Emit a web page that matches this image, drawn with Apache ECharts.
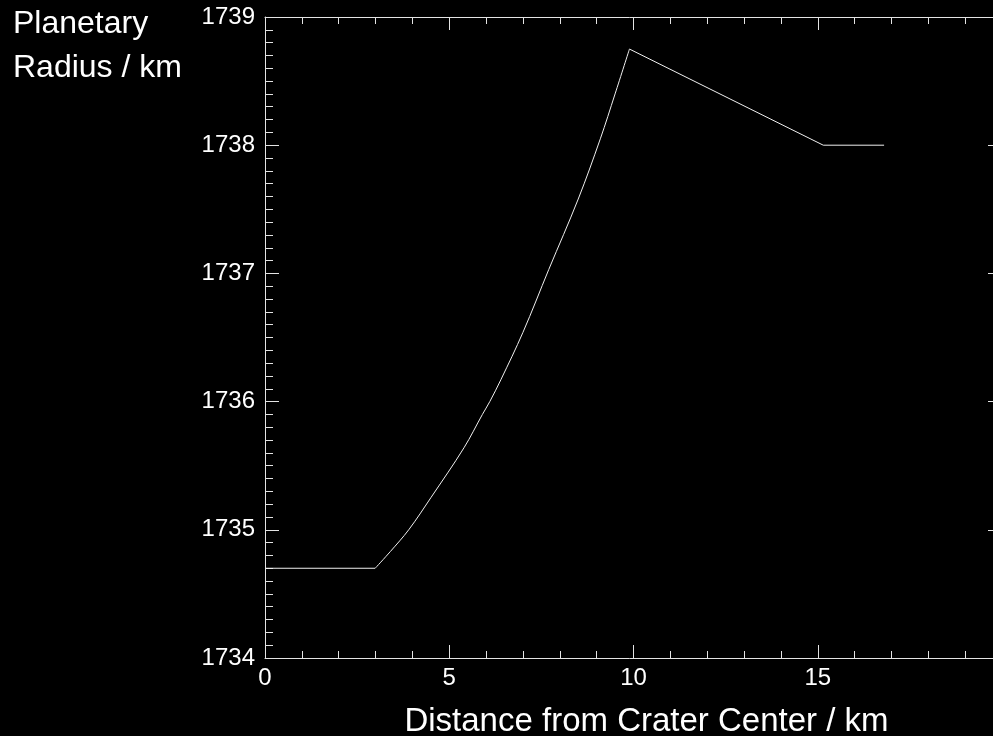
<!DOCTYPE html>
<html>
<head>
<meta charset="utf-8">
<script src="https://cdn.jsdelivr.net/npm/echarts@6/dist/echarts.min.js"></script>
<style>
html,body{margin:0;padding:0;background:#000;}
#chart{width:993px;height:736px;}
</style>
</head>
<body>
<div id="chart"></div>
<script>
// Crater floor: distance (km) / planetary radius (km)
var floorDistance = [0, 2.99];
var floorRadius = [1734.70, 1734.70];
// Crater wall
var wallDistance = [2.99, 3.4, 3.9, 4.5, 5.4, 5.9, 6.1, 6.4, 7.0, 7.7, 8.5, 9.1, 9.5, 9.89];
var wallRadius = [1734.70, 1734.83, 1735.00, 1735.25, 1735.64, 1735.90, 1736.00, 1736.17, 1736.54, 1737.03, 1737.58, 1738.05, 1738.40, 1738.75];
// Rim and surroundings
var rimDistance = [9.89, 15.15, 16.8];
var rimRadius = [1738.75, 1738.00, 1738.00];

var xTicks = [0, 5, 10, 15, 20];
var yTicks = [1734, 1735, 1736, 1737, 1738, 1739];

var xTitle = 'Distance from Crater Center / km';
var yTitle = 'Planetary\nRadius / km';

var FONT = 'Liberation Sans, Arial, Helvetica, sans-serif';
var LINE = '#e4e4e4';

function pairs(xs, ys) { return xs.map(function (d, i) { return [d, ys[i]]; }); }

function xAxisCfg(pos, showLabel) {
  return {
    type: 'value', position: pos,
    min: xTicks[0], max: xTicks[xTicks.length - 1], interval: xTicks[1] - xTicks[0],
    axisLine: { show: true, onZero: false, lineStyle: { color: LINE, width: 1 } },
    axisTick: { show: true, inside: true, length: 13, lineStyle: { color: LINE, width: 1 } },
    minorTick: { show: true, splitNumber: 5, length: 7, lineStyle: { color: LINE, width: 1 } },
    splitLine: { show: false },
    axisLabel: {
      show: showLabel, color: '#fff', fontSize: 24, fontFamily: FONT, margin: 8,
      formatter: function (v) { return v === xTicks[xTicks.length - 1] ? '' : String(v); }
    },
    name: showLabel ? xTitle : '',
    nameLocation: 'middle', nameGap: 47,
    nameTextStyle: { color: '#fff', fontSize: 33, fontFamily: FONT, padding: [0, 0, 0, 26] }
  };
}
function yAxisCfg(pos, showLabel) {
  return {
    type: 'value', position: pos,
    min: yTicks[0], max: yTicks[yTicks.length - 1], interval: 1,
    axisLine: { show: true, onZero: false, lineStyle: { color: LINE, width: 1 } },
    axisTick: { show: true, inside: true, length: 14, lineStyle: { color: LINE, width: 1 } },
    minorTick: { show: true, splitNumber: 10, length: 8, lineStyle: { color: LINE, width: 1 } },
    splitLine: { show: false },
    axisLabel: {
      show: showLabel, color: '#fff', fontSize: 24, fontFamily: FONT, margin: 10,
      formatter: function (v) { return String(v); }
    }
  };
}

var lineStyle = { color: '#f0f0f0', width: 1 };

var chart = echarts.init(document.getElementById('chart'), null, { renderer: 'canvas' });
chart.setOption({
  backgroundColor: '#000',
  animation: false,
  title: {
    text: yTitle, left: 13, top: 2, padding: 0,
    textStyle: { color: '#fff', fontSize: 32, fontWeight: 'normal', fontFamily: FONT, lineHeight: 44 }
  },
  grid: { left: 265, top: 17, width: 737, height: 641, containLabel: false, outerBoundsMode: 'none' },
  xAxis: [xAxisCfg('bottom', true), xAxisCfg('top', false)],
  yAxis: [yAxisCfg('left', true), yAxisCfg('right', false)],
  series: [
    { type: 'line', data: pairs(floorDistance, floorRadius), symbol: 'none', lineStyle: lineStyle },
    { type: 'line', data: pairs(wallDistance, wallRadius), symbol: 'none', smooth: 0.35, lineStyle: lineStyle },
    { type: 'line', data: pairs(rimDistance, rimRadius), symbol: 'none', lineStyle: lineStyle }
  ]
});
</script>
</body>
</html>
